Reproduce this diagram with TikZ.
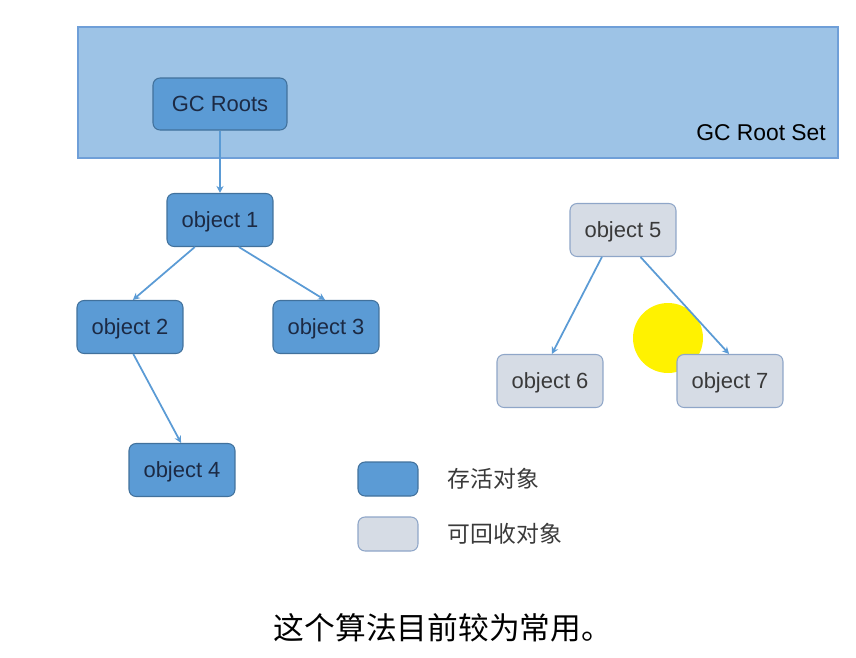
\documentclass[tikz,border=0pt]{standalone}
\usepackage{fontspec}
\setmainfont{Liberation Sans}
\newfontfamily\cjk{Noto Sans CJK SC}
\usetikzlibrary{positioning}
\usetikzlibrary{arrows.meta}
\definecolor{liveblue}{HTML}{5B9BD5}
\definecolor{liveedge}{HTML}{41719C}
\definecolor{setblue}{HTML}{9DC3E6}
\definecolor{setedge}{HTML}{6F9FD8}
\definecolor{deadgray}{HTML}{D6DCE5}
\definecolor{deadedge}{HTML}{8FA6C8}
\definecolor{livetext}{HTML}{1C2A44}
\definecolor{deadtext}{HTML}{3A3A3A}
\tikzset{
    rootset/.style = {rectangle, draw=setedge, fill=setblue, line width=0.8pt},
    objlive/.style = {rectangle, rounded corners=4pt, draw=liveedge, fill=liveblue, line width=0.6pt,
                      minimum width=2.12cm, minimum height=1.06cm, text=livetext, font=\fontsize{12.5}{14}\selectfont,
                      text depth=0pt},
    objdead/.style = {rectangle, rounded corners=4pt, draw=deadedge, fill=deadgray, line width=0.6pt,
                      minimum width=2.12cm, minimum height=1.06cm, text=deadtext, font=\fontsize{12.5}{14}\selectfont,
                      text depth=0pt},
    keylive/.style = {objlive, minimum width=1.2cm, minimum height=0.68cm},
    keydead/.style = {objdead, minimum width=1.2cm, minimum height=0.68cm},
    keytext/.style = {anchor=west, inner sep=0pt, text=deadtext, font=\cjk\fontsize{13}{15}\selectfont},
    edgeb/.style = {-{Stealth[length=4pt,width=4pt]}, line width=1pt, liveblue},
}
\begin{document}
\begin{tikzpicture}[x=0.02cm,y=-0.02cm]
\useasboundingbox (0,0) rectangle (856,657);
%
\node[rootset, minimum width=15.2cm, minimum height=2.62cm] at (458,92.5) (set) {};
\node[anchor=east, font=\fontsize{13}{15}\selectfont] at (832,133) (setlabel) {GC Root Set};
\node[objlive, minimum width=2.68cm, minimum height=1.04cm] at (220,104) (roots) {GC Roots};
\fill[yellow] (668,338) circle (35);
\node[objlive] at (220,220) (o1) {object 1};
\node[objlive] at (130,327) (o2) {object 2};
\node[objlive] at (326,327) (o3) {object 3};
\node[objlive] at (182,470) (o4) {object 4};
\node[objdead] at (623,230) (o5) {object 5};
\node[objdead] at (550,381) (o6) {object 6};
\node[objdead] at (730,381) (o7) {object 7};
\node[keylive] at (388,479) (klive) {};
\node[keydead] at (388,534) (kdead) {};
\node[keytext, right=0.58cm of klive.east, anchor=west] (tlive) {存活对象};
\node[keytext, right=0.58cm of kdead.east, anchor=west] (tdead) {可回收对象};
\node[font=\cjk\fontsize{17.5}{20}\selectfont, text=black] at (443,628) (caption) {这个算法目前较为常用。};
%
\draw[edgeb] (roots.south) -- (o1.north);
\draw[edgeb] (o1.227) -- (o2.84);
\draw[edgeb] (o1.305) -- (o3.92);
\draw[edgeb] (o2.277) -- (o4.92);
\draw[edgeb] (o5.232) -- (o6.86);
\draw[edgeb] (o5.303) -- (o7.92);
\end{tikzpicture}
\end{document}
